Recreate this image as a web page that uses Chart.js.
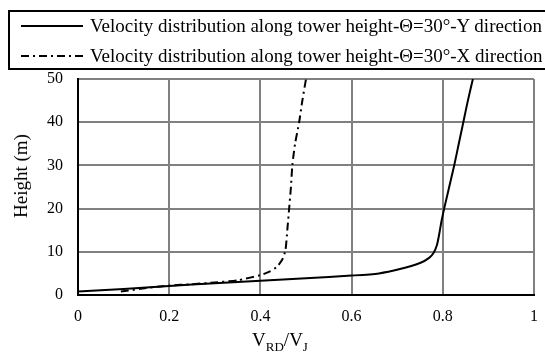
<!DOCTYPE html>
<html>
<head>
<meta charset="utf-8">
<script src="https://cdn.jsdelivr.net/npm/chart.js@4.4.0/dist/chart.umd.min.js"></script>
<style>
  body { margin: 0; background: #fff; }
  #wrap { position: relative; width: 545px; height: 354px; overflow: hidden; font-family: "Liberation Serif", "Times New Roman", serif; }
  #legend { position: absolute; left: 8px; top: 10px; width: 560px; height: 60px; border: 2px solid #000; box-sizing: border-box; }
  .row { position: absolute; left: 10px; height: 22px; font-size: 19px; line-height: 22px; white-space: nowrap; }
  .row svg { position: absolute; left: 1px; top: 5px; }
  .row span { position: absolute; left: 70px; top: 0; }
  #xtitle { position: absolute; left: 0; width: 560px; top: 329px; text-align: center; font-size: 19px; line-height: 22px; }
  #xtitle sub { font-size: 13px; }
  #ytitle { position: absolute; left: 21px; top: 176px; font-size: 19px; line-height: 22px; white-space: nowrap; transform: translate(-50%, -50%) rotate(-90deg); }
</style>
</head>
<body>
<div id="wrap">
  <canvas id="graph" width="545" height="354"></canvas>
  <div id="legend">
    <div class="row" style="top:3px"><svg width="64" height="12"><line x1="0" y1="6" x2="62" y2="6" stroke="#000" stroke-width="2"/></svg><span>Velocity distribution along tower height-Θ=30°-Y direction</span></div>
    <div class="row" style="top:33px"><svg width="64" height="12"><line x1="0" y1="6" x2="62" y2="6" stroke="#000" stroke-width="2" stroke-dasharray="8,4,2,4"/></svg><span>Velocity distribution along tower height-Θ=30°-X direction</span></div>
  </div>
  <div id="xtitle">V<sub>RD</sub>/V<sub>J</sub></div>
  <div id="ytitle">Height (m)</div>
</div>
<script>
// donnees
var vitesseY = [0, 0.1, 0.2, 0.3, 0.4, 0.5, 0.6, 0.66, 0.706, 0.75, 0.77, 0.78, 0.787, 0.792, 0.797, 0.803, 0.825, 0.835, 0.845, 0.855, 0.866];
var hauteurY = [0.8, 1.4, 2.1, 2.7, 3.3, 3.9, 4.5, 5.0, 6.0, 7.4, 8.6, 9.8, 11.5, 14, 17, 20, 30, 35, 40, 45, 50];

var vitesseX = [0.094, 0.15, 0.2, 0.25, 0.3, 0.35, 0.4, 0.42, 0.436, 0.448, 0.455, 0.459, 0.463, 0.467, 0.47, 0.476, 0.485, 0.492, 0.5];
var hauteurX = [0.8, 1.6, 2.2, 2.5, 2.9, 3.4, 4.6, 5.4, 6.5, 8.2, 10.4, 15, 20, 25, 30, 35, 40, 45, 50];

var ticksX = [0, 0.2, 0.4, 0.6, 0.8, 1];
var ticksY = [0, 10, 20, 30, 40, 50];

function points(xs, ys) {
    return xs.map(function(x, i) { return { x: x, y: ys[i] }; });
}

function afficherGraphique() {
    var ctx = document.getElementById("graph").getContext("2d");

    new Chart(ctx, {
        type: "scatter",
        data: {
            datasets: [{
                label: "Y direction",
                data: points(vitesseY, hauteurY),
                showLine: true,
                borderColor: "#000",
                borderWidth: 2,
                pointRadius: 0,
                tension: 0.25
            }, {
                label: "X direction",
                data: points(vitesseX, hauteurX),
                showLine: true,
                borderColor: "#000",
                borderWidth: 2,
                borderDash: [8, 4, 2, 4],
                pointRadius: 0,
                tension: 0.2
            }]
        },
        options: {
            responsive: false,
            animation: false,
            layout: { padding: { left: 0, top: 79, right: 11, bottom: 0 } },
            plugins: { legend: { display: false }, tooltip: { enabled: false } },
            scales: {
                x: {
                    type: "linear",
                    min: 0,
                    max: 1,
                    afterBuildTicks: function(scale) {
                        scale.ticks = ticksX.map(function(v) { return { value: v }; });
                    },
                    afterFit: function(scale) {
                        scale.height = 59;
                        scale.paddingLeft = 0;
                        scale.paddingRight = 0;
                    },
                    grid: { color: "#808080", lineWidth: 2, drawTicks: false },
                    border: { color: "#000", width: 2 },
                    ticks: {
                        color: "#000", padding: 12, font: { family: "Liberation Serif", size: 16 },
                        callback: function(v) { return String(v); }
                    }
                },
                y: {
                    type: "linear",
                    min: 0,
                    max: 50,
                    afterBuildTicks: function(scale) {
                        scale.ticks = ticksY.map(function(v) { return { value: v }; });
                    },
                    afterFit: function(scale) { scale.width = 78; },
                    grid: { color: "#808080", lineWidth: 2, drawTicks: false },
                    border: { color: "#000", width: 2 },
                    ticks: { color: "#000", padding: 15, font: { family: "Liberation Serif", size: 16 } }
                }
            }
        }
    });
}

afficherGraphique();
</script>
</body>
</html>
